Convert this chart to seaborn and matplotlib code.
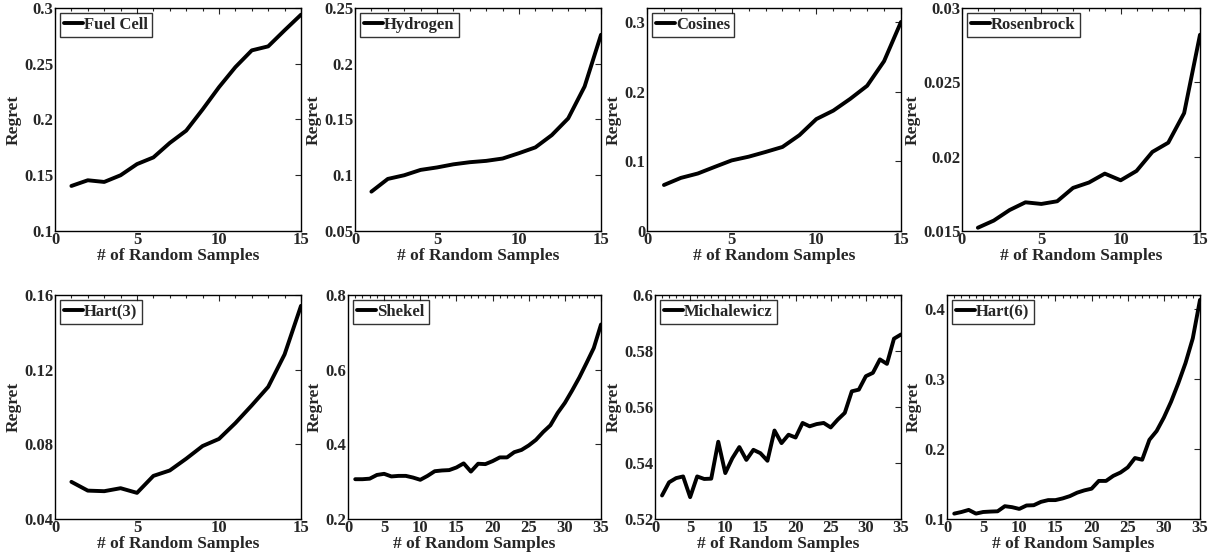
import numpy as np
import pandas as pd
import seaborn as sns
import matplotlib.pyplot as plt
from matplotlib.ticker import MultipleLocator, FuncFormatter

# ---- data ----
names = ['Fuel Cell', 'Hydrogen', 'Cosines', 'Rosenbrock',
         'Hart(3)', 'Shekel', 'Michalewicz', 'Hart(6)']

fuel_cell = [0.1404, 0.1455, 0.1440, 0.1500, 0.1600, 0.1660, 0.1790, 0.1900,
             0.2090, 0.2290, 0.2470, 0.2620, 0.2656, 0.2800, 0.2940]
hydrogen = [0.0853, 0.0967, 0.1000, 0.1048, 0.1070, 0.1098, 0.1117, 0.1129,
            0.1150, 0.1198, 0.1250, 0.1360, 0.1510, 0.1796, 0.2260]
cosines = [0.0660, 0.0762, 0.0825, 0.0920, 0.1013, 0.1066, 0.1134, 0.1206,
           0.1375, 0.1606, 0.1727, 0.1896, 0.2084, 0.2437, 0.3000]
rosenbrock = [0.01522, 0.01570, 0.01641, 0.01693, 0.01682, 0.01700, 0.01790,
              0.01826, 0.01886, 0.01841, 0.01904, 0.02032, 0.02094, 0.02293,
              0.02820]
hart3 = [0.0599, 0.0552, 0.0549, 0.0565, 0.0540, 0.0631, 0.0660, 0.0723,
         0.0791, 0.0829, 0.0914, 0.1009, 0.1108, 0.1282, 0.1542]
shekel = [0.3066, 0.3066, 0.3080, 0.3180, 0.3210, 0.3140, 0.3155, 0.3155,
          0.3110, 0.3050, 0.3155, 0.3280, 0.3300, 0.3310, 0.3380, 0.3490,
          0.3270, 0.3480, 0.3470, 0.3550, 0.3650, 0.3650, 0.3790, 0.3850,
          0.3970, 0.4120, 0.4330, 0.4510, 0.4840, 0.5110, 0.5440, 0.5790,
          0.6180, 0.6580, 0.7210]
michalewicz = [0.5284, 0.5331, 0.5346, 0.5352, 0.5278, 0.5352, 0.5343, 0.5344,
               0.5476, 0.5364, 0.5417, 0.5457, 0.5411, 0.5447, 0.5435, 0.5408,
               0.5516, 0.5471, 0.5501, 0.5491, 0.5543, 0.5531, 0.5539, 0.5543,
               0.5527, 0.5555, 0.5579, 0.5656, 0.5662, 0.5710, 0.5722, 0.5770,
               0.5754, 0.5844, 0.5859]
hart6 = [0.1077, 0.1100, 0.1130, 0.1077, 0.1100, 0.1106, 0.1110, 0.1183,
         0.1169, 0.1144, 0.1193, 0.1197, 0.1245, 0.1270, 0.1270, 0.1294,
         0.1327, 0.1376, 0.1409, 0.1433, 0.1544, 0.1544, 0.1616, 0.1664,
         0.1737, 0.1871, 0.1847, 0.2131, 0.2257, 0.2449, 0.2676, 0.2940,
         0.3229, 0.3580, 0.4130]

series = [fuel_cell, hydrogen, cosines, rosenbrock, hart3, shekel, michalewicz, hart6]

xmaxes = [15, 15, 15, 15, 15, 35, 35, 35]
ylims = [(0.1, 0.3), (0.05, 0.25), (0, 0.32), (0.015, 0.03),
         (0.04, 0.16), (0.2, 0.8), (0.52, 0.6), (0.1, 0.42)]
yticks = [[0.1, 0.15, 0.2, 0.25, 0.3], [0.05, 0.1, 0.15, 0.2, 0.25],
          [0, 0.1, 0.2, 0.3], [0.015, 0.02, 0.025, 0.03],
          [0.04, 0.08, 0.12, 0.16], [0.2, 0.4, 0.6, 0.8],
          [0.52, 0.54, 0.56, 0.58, 0.6], [0.1, 0.2, 0.3, 0.4]]

# axes boxes in pixels: left, right, top, bottom
boxes = [(55, 301, 8, 231), (355, 601, 8, 231), (647, 901, 8, 231), (962, 1200, 8, 231),
         (55, 301, 295, 519), (348, 601, 295, 519), (655, 901, 295, 519), (947, 1200, 295, 519)]

W, H = 1221, 559

sns.set_style('white')
plt.rcParams['font.family'] = ['Liberation Serif', 'DejaVu Serif']
plt.rcParams['font.weight'] = 'bold'
plt.rcParams['axes.labelweight'] = 'bold'
plt.rcParams['xtick.direction'] = 'in'
plt.rcParams['ytick.direction'] = 'in'

fig = plt.figure(figsize=(W / 100, H / 100), dpi=100)

fmt = FuncFormatter(lambda v, p: ('%g' % round(v, 6)))

for i, (name, vals) in enumerate(zip(names, series)):
    l, r, t, b = boxes[i]
    ax = fig.add_axes([l / W, 1 - b / H, (r - l) / W, (b - t) / H])
    df = pd.DataFrame({'n': np.arange(1, len(vals) + 1), 'regret': vals})
    sns.lineplot(data=df, x='n', y='regret', ax=ax, color='black', lw=2.8, label=name)
    xmax = xmaxes[i]
    ax.set_xlim(0, xmax)
    ax.set_ylim(*ylims[i])
    ax.set_xticks(list(range(0, xmax + 1, 5)))
    ax.xaxis.set_minor_locator(MultipleLocator(1))
    ax.set_yticks(yticks[i])
    ax.yaxis.set_major_formatter(fmt)
    ax.tick_params(which='both', top=True, right=True, labelsize=12, pad=1, width=0.8)
    ax.tick_params(which='major', length=4)
    ax.tick_params(which='minor', length=2.5)
    for lab in ax.get_xticklabels() + ax.get_yticklabels():
        lab.set_fontweight('bold')
    for s in ax.spines.values():
        s.set_color('black')
        s.set_linewidth(1.0)
    ax.set_xlabel('# of Random Samples', fontsize=12.5, labelpad=0)
    ax.set_ylabel('Regret', fontsize=12.5, labelpad=2)
    leg = ax.legend(loc='upper left', frameon=True, fancybox=False,
                    edgecolor='black', handlelength=1.1, handletextpad=0.1,
                    borderpad=0.25, borderaxespad=0.3, prop={'weight': 'bold', 'size': 12})
    leg.get_frame().set_linewidth(1.0)

fig.savefig('out.png', dpi=100)
